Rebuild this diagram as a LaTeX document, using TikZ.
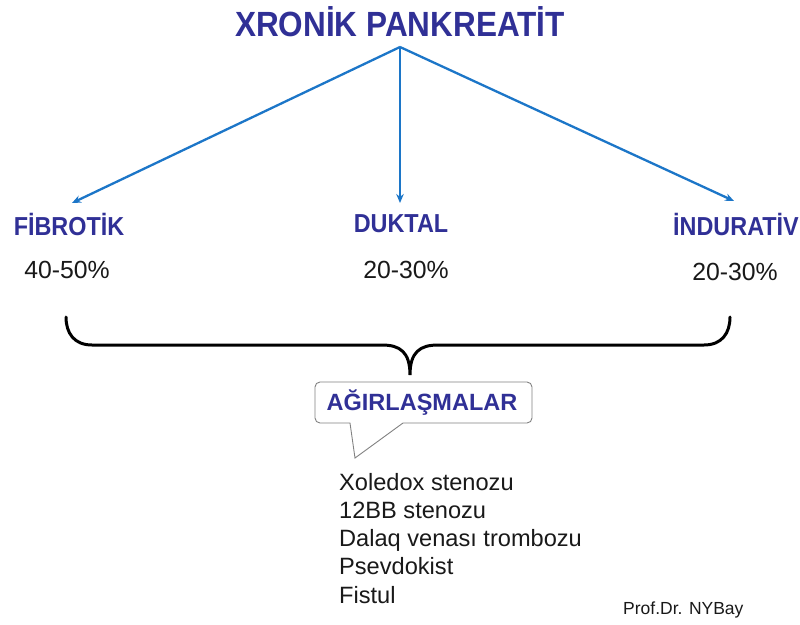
\documentclass[tikz,border=0pt]{standalone}
\usepackage{fontspec}
\setmainfont{Liberation Sans}
\newfontfamily\condbold[FakeStretch=0.90]{Liberation Sans Bold}
\usetikzlibrary{arrows.meta}
\definecolor{titleblue}{RGB}{48,48,150}
\definecolor{arrowblue}{RGB}{28,118,200}
\definecolor{txtgray}{RGB}{25,25,25}
\definecolor{boxgray}{RGB}{130,130,130}
\tikzset{
  titlestyle/.style={inner sep=0pt, text=titleblue, font=\condbold\fontsize{35}{38}\selectfont},
  catstyle/.style={inner sep=0pt, text=titleblue, font=\condbold\fontsize{26}{30}\selectfont},
  pctstyle/.style={inner sep=0pt, text=txtgray, font=\fontsize{24.8}{28}\selectfont},
  liststyle/.style={inner sep=0pt, anchor=base west, text=txtgray, font=\fontsize{23.6}{28}\selectfont},
  arr/.style={draw=arrowblue, line width=2.3pt, -{Stealth[length=9pt,width=7.5pt]}},
  bracestyle/.style={draw=black, line width=3pt, line cap=round},
  calloutstyle/.style={draw=boxgray, line width=0.9pt, fill=white},
}
\begin{document}
\begin{tikzpicture}[x=1pt,y=-1pt]
\useasboundingbox (0,0) rectangle (800,624);
\fill[white] (0,0) rectangle (800,624);

\node[titlestyle] (title) at (400,22) {XRONİK PANKREATİT};
\coordinate (root) at (400,47);
\coordinate (tipL) at (72,203);
\coordinate (tipM) at (400,203);
\coordinate (tipR) at (734,201);
\draw[arr] (root) -- (tipL);
\draw[arr] (root) -- (tipM);
\draw[arr] (root) -- (tipR);

\node[catstyle] (fib) at (69,224) {FİBROTİK};
\node[catstyle] (duk) at (401,224) {DUKTAL};
\node[catstyle] (ind) at (736,224) {İNDURATİV};

\node[pctstyle] (p1) at (67,270) {40-50\%};
\node[pctstyle] (p2) at (406,270) {20-30\%};
\node[pctstyle] (p3) at (735,272) {20-30\%};

% brace
\coordinate (bl) at (66,317);
\coordinate (br) at (730,317);
\coordinate (btip) at (410,375);
\draw[bracestyle] (bl) .. controls (66,333) and (74,345) .. (92,345)
  -- (382,345) .. controls (400,345) and (410,352) .. (btip)
  .. controls (410,352) and (420,345) .. (438,345)
  -- (704,345) .. controls (722,345) and (730,333) .. (br);

% callout
\coordinate (ctip) at (355,458);
\draw[calloutstyle] (ctip) -- (350,423) [rounded corners=5pt] -- (315,423) -- (315,382) -- (532,382) -- (532,423) [sharp corners] -- (403,423) -- cycle;
\node[inner sep=0pt, text=titleblue, font=\bfseries\fontsize{23.5}{26}\selectfont] (agir) at (422,403) {AĞIRLAŞMALAR};

% list
\node[liststyle] (l1) at (339,490) {Xoledox stenozu};
\node[liststyle] (l2) at (339,518.3) {12BB stenozu};
\node[liststyle] (l3) at (339,546.6) {Dalaq venası trombozu};
\node[liststyle] (l4) at (339,574.9) {Psevdokist};
\node[liststyle] (l5) at (339,603.2) {Fistul};

\node[inner sep=0pt, anchor=base west, text=txtgray, font=\fontsize{17.5}{20}\selectfont] (prof) at (623,614) {Prof.Dr. NYBay};
\end{tikzpicture}
\end{document}
